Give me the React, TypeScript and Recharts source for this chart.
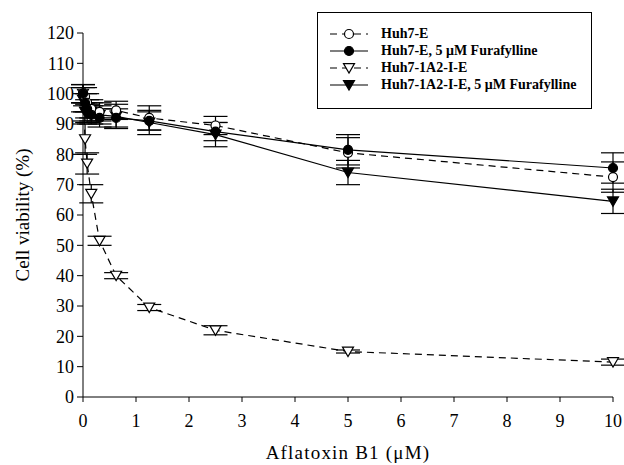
import React from "react";
import { LineChart, Line, XAxis, YAxis, ErrorBar, Label } from "recharts";

const FONT = "Liberation Serif, Times New Roman, serif";

// Aflatoxin B1 doses (uM)
const doses = [0, 0.039, 0.078, 0.156, 0.3125, 0.625, 1.25, 2.5, 5, 10];

const huh7E = [100, 99, 97, 95, 94, 94.5, 92, 89.5, 80.5, 72.5];
const huh7EErr = [3, 3, 3, 3, 3, 3, 4, 3, 5, 5];

const huh7EF = [100, 97, 95, 93, 92, 92, 91, 87.5, 81.5, 75.5];
const huh7EFErr = [3, 3, 3, 3, 3, 3, 3, 3, 5, 5];

const huh1A2 = [100, 85, 77, 67, 51.5, 40, 29.5, 22, 15, 11.5];
const huh1A2Err = [3, 5, 3.5, 3, 1.5, 1, 1, 1.5, 0.5, 1];

const huh1A2F = [98, 94, 93.5, 94, 93, 92.5, 90.5, 86.5, 74, 64.5];
const huh1A2FErr = [4, 3, 3, 3, 3, 4, 4, 4, 4, 4];

const xTicks = [0, 1, 2, 3, 4, 5, 6, 7, 8, 9, 10];
const yTicks = [0, 10, 20, 30, 40, 50, 60, 70, 80, 90, 100, 110, 120];

const data = doses.map((d, i) => ({
  dose: d,
  e: huh7E[i],
  eErr: huh7EErr[i],
  ef: huh7EF[i],
  efErr: huh7EFErr[i],
  a: huh1A2[i],
  aErr: huh1A2Err[i],
  af: huh1A2F[i],
  afErr: huh1A2FErr[i],
}));

type Marker = "openCircle" | "circle" | "openTri" | "tri";

function drawMarker(kind: Marker, cx: number, cy: number, key?: string) {
  if (kind === "openCircle" || kind === "circle") {
    return (
      <circle
        key={key}
        cx={cx}
        cy={cy}
        r={4.5}
        fill={kind === "circle" ? "#000" : "#fff"}
        stroke="#000"
        strokeWidth={1.2}
      />
    );
  }
  const s = 5.5;
  return (
    <path
      key={key}
      d={`M${cx - s},${cy - s * 0.8} L${cx + s},${cy - s * 0.8} L${cx},${cy + s * 0.9} Z`}
      fill={kind === "tri" ? "#000" : "#fff"}
      stroke="#000"
      strokeWidth={1.2}
    />
  );
}

const dotFor = (kind: Marker) => (props: any) =>
  drawMarker(kind, props.cx, props.cy, `${kind}-${props.index}`);

const legendItems: { label: string; kind: Marker; dashed: boolean }[] = [
  { label: "Huh7-E", kind: "openCircle", dashed: true },
  { label: "Huh7-E, 5 \u03bcM Furafylline", kind: "circle", dashed: false },
  { label: "Huh7-1A2-I-E", kind: "openTri", dashed: true },
  { label: "Huh7-1A2-I-E, 5 \u03bcM Furafylline", kind: "tri", dashed: false },
];

function LegendBox() {
  return (
    <div
      style={{
        position: "absolute",
        left: 317,
        top: 12,
        width: 275,
        height: 97,
        border: "1px solid #000",
        background: "#fff",
        boxSizing: "border-box",
        padding: "12px 0 0 11px",
        fontFamily: FONT,
        fontWeight: "bold",
        fontSize: 14,
      }}
    >
      {legendItems.map((it) => (
        <div
          key={it.label}
          style={{ display: "flex", alignItems: "center", height: 17 }}
        >
          <svg width={40} height={14} style={{ marginRight: 12 }}>
            <line
              x1={1}
              y1={7}
              x2={39}
              y2={7}
              stroke="#000"
              strokeWidth={1.2}
              strokeDasharray={it.dashed ? "7 5" : undefined}
            />
            {drawMarker(it.kind, 20, 7)}
          </svg>
          <span>{it.label}</span>
        </div>
      ))}
    </div>
  );
}

export default function App() {
  const tickStyle = { fill: "#000", fontSize: 18, fontFamily: FONT };
  return (
    <div
      style={{
        position: "absolute",
        left: 0,
        top: 0,
        width: 624,
        height: 465,
        background: "#fff",
        fontFamily: FONT,
      }}
    >
      <LineChart
        width={624}
        height={465}
        data={data}
        margin={{ top: 33, right: 11, bottom: 0, left: 0 }}
      >
        <XAxis
          dataKey="dose"
          type="number"
          domain={[0, 10]}
          ticks={xTicks}
          interval={0}
          height={68}
          stroke="#000"
          tickSize={5}
          tick={tickStyle}
          tickMargin={12}
        >
          <Label
            value={"Aflatoxin B1 (\u03bcM)"}
            position="insideBottom"
            offset={6}
            style={{
              fill: "#000",
              fontSize: 19,
              fontFamily: FONT,
              letterSpacing: 1.2,
            }}
          />
        </XAxis>
        <YAxis
          type="number"
          domain={[0, 120]}
          ticks={yTicks}
          interval={0}
          width={83}
          stroke="#000"
          tickSize={6}
          tick={tickStyle}
          tickMargin={3}
        >
          <Label
            value="Cell viability (%)"
            angle={-90}
            position="insideLeft"
            offset={22}
            style={{
              fill: "#000",
              fontSize: 19,
              fontFamily: FONT,
              textAnchor: "middle",
            }}
          />
        </YAxis>
        <Line
          dataKey="a"
          stroke="#000"
          strokeWidth={1.2}
          strokeDasharray="7 5"
          dot={dotFor("openTri")}
          isAnimationActive={false}
        >
          <ErrorBar dataKey="aErr" direction="y" width={12} stroke="#000" strokeWidth={1.2} />
        </Line>
        <Line
          dataKey="af"
          stroke="#000"
          strokeWidth={1.2}
          dot={dotFor("tri")}
          isAnimationActive={false}
        >
          <ErrorBar dataKey="afErr" direction="y" width={12} stroke="#000" strokeWidth={1.2} />
        </Line>
        <Line
          dataKey="e"
          stroke="#000"
          strokeWidth={1.2}
          strokeDasharray="7 5"
          dot={dotFor("openCircle")}
          isAnimationActive={false}
        >
          <ErrorBar dataKey="eErr" direction="y" width={12} stroke="#000" strokeWidth={1.2} />
        </Line>
        <Line
          dataKey="ef"
          stroke="#000"
          strokeWidth={1.2}
          dot={dotFor("circle")}
          isAnimationActive={false}
        >
          <ErrorBar dataKey="efErr" direction="y" width={12} stroke="#000" strokeWidth={1.2} />
        </Line>
      </LineChart>
      <LegendBox />
    </div>
  );
}
